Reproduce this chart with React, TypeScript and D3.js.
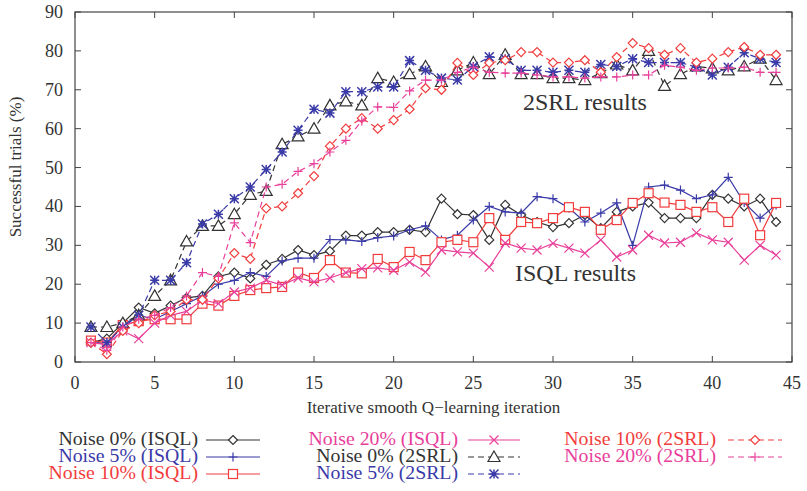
import React from "react";
import * as d3 from "d3";

// iterations 1..44
const iterations = d3.range(1, 45);

const isql0 = [5, 6, 10, 14, 12.5, 14.5, 16.5, 17, 22, 23, 21.5, 25, 26.5, 28.8, 27.5, 28.5, 32.5, 32.5, 33.4, 33.4, 34, 33.4, 42, 38, 37.8, 31.4, 40.4, 37.8, 36, 34.7, 35.7, 37.8, 34.4, 38.6, 40, 41, 37, 37, 37, 43, 42, 40, 42, 36];
const isql5 = [5.5, 4.5, 9.5, 12, 11, 13, 15, 17, 20, 21, 23, 22, 26, 26.7, 26.7, 31.5, 31.4, 31, 32, 32.4, 34, 35, 31.4, 32.6, 36.5, 40, 38.6, 38.3, 42.5, 42, 39.6, 36, 38.3, 40.9, 30, 45, 45.5, 44.2, 42, 43, 47.5, 41, 37, 40.4];
const isql10 = [5.5, 5, 9.5, 10.5, 11, 11, 11, 15, 14.5, 17, 18.5, 19, 19.3, 23, 21.6, 26.2, 23, 22.8, 26.5, 24.4, 28.3, 26.2, 30.8, 31.4, 30.8, 37, 31.4, 36, 35.7, 37, 39.8, 38.6, 34, 36.5, 40.9, 43.4, 41, 40.4, 38.6, 39.8, 36, 42, 32.6, 40.9];
const isql20 = [5, 4.5, 8, 6, 10, 12, 13, 16, 15, 18, 19, 21, 19.8, 21.6, 20.6, 21.6, 23, 24, 24.2, 23.6, 25.7, 23.1, 28.8, 28.3, 28, 24.4, 30.6, 29.3, 28.8, 30.5, 29.3, 28, 31.4, 27, 28.8, 32.6, 30.6, 30.8, 33.2, 31.4, 30.8, 26.2, 30, 27.5];
const srl0 = [9, 9, 10, 12, 17, 21, 31, 35, 35, 38, 43, 44, 56, 58, 60, 66, 67, 66, 73, 72, 74, 76, 72, 75, 77, 74, 79, 74, 74, 73, 73, 72.5, 74.3, 76.5, 75, 80, 71, 74, 76, 75.5, 75, 76, 78, 72.5];
const srl5 = [9, 5, 9, 12, 21, 21, 25.5, 35.5, 38, 42, 45, 49.5, 54, 59.6, 65, 64, 69.5, 69.5, 70.7, 70.7, 77.5, 75, 73, 72.5, 76, 78.5, 78, 75, 75, 74.5, 75, 74.5, 76.5, 76, 78, 77, 77, 77, 75.8, 73.8, 75.8, 79.5, 78, 77];
const srl10 = [5, 2, 8, 10, 12, 13, 16, 16, 21.5, 28, 26.5, 39.5, 40, 43.4, 47.8, 55.5, 60, 62.7, 60, 62.2, 65, 70.4, 70, 76.9, 73.8, 76.9, 77.6, 79.7, 79.7, 77, 77, 77.6, 74.5, 78.4, 82, 80.7, 79, 80.7, 77, 78, 79.7, 81, 79, 79];
const srl20 = [5, 3, 9, 11, 12, 14, 17, 23, 22, 35.8, 30.7, 45, 45.7, 49, 51, 54, 57, 62, 65.6, 65.5, 69.7, 72.5, 72.5, 74.5, 75.8, 74.5, 74.3, 74.3, 73.8, 73.3, 73.3, 73, 73.3, 73.3, 73.8, 73.8, 76.3, 75.8, 75, 75.6, 75.6, 75.8, 74.5, 74.5];

const xTicks = [0, 5, 10, 15, 20, 25, 30, 35, 40, 45];
const yTicks = [0, 10, 20, 30, 40, 50, 60, 70, 80, 90];

const BLACK = "#333333";
const BLUE = "#3a3aa8";
const RED = "#f23c3c";
const PINK = "#e8409a";

const series = [
  { name: "Noise 0% (ISQL)", values: isql0, color: BLACK, marker: "diamond", dashed: false },
  { name: "Noise 5% (ISQL)", values: isql5, color: BLUE, marker: "plus", dashed: false },
  { name: "Noise 10% (ISQL)", values: isql10, color: RED, marker: "square", dashed: false },
  { name: "Noise 20% (ISQL)", values: isql20, color: PINK, marker: "cross", dashed: false },
  { name: "Noise 0% (2SRL)", values: srl0, color: BLACK, marker: "triangle", dashed: true },
  { name: "Noise 5% (2SRL)", values: srl5, color: BLUE, marker: "star", dashed: true },
  { name: "Noise 10% (2SRL)", values: srl10, color: RED, marker: "diamond", dashed: true },
  { name: "Noise 20% (2SRL)", values: srl20, color: PINK, marker: "plus", dashed: true },
];

const FONT = "'Liberation Serif', 'DejaVu Serif', serif";

function Marker({ type, x, y, color }: { type: string; x: number; y: number; color: string }) {
  const s = 4.5;
  const common = { fill: "none", stroke: color, strokeWidth: 1.2 };
  if (type === "diamond")
    return <path d={`M${x},${y - s}L${x + s},${y}L${x},${y + s}L${x - s},${y}Z`} {...common} fill="white" />;
  if (type === "square")
    return <rect x={x - s} y={y - s} width={2 * s} height={2 * s} {...common} fill="white" />;
  if (type === "triangle")
    return <path d={`M${x},${y - 6}L${x + 6},${y + 4.5}L${x - 6},${y + 4.5}Z`} {...common} fill="white" />;
  if (type === "plus")
    return <path d={`M${x - s},${y}H${x + s}M${x},${y - s}V${y + s}`} {...common} />;
  if (type === "cross")
    return <path d={`M${x - s},${y - s}L${x + s},${y + s}M${x - s},${y + s}L${x + s},${y - s}`} {...common} />;
  // star: plus + cross
  return (
    <path
      d={`M${x - s},${y}H${x + s}M${x},${y - s}V${y + s}M${x - s},${y - s}L${x + s},${y + s}M${x - s},${y + s}L${x + s},${y - s}`}
      {...common}
      strokeWidth={1.5}
    />
  );
}

export default function App() {
  const W = 807, H = 491;
  const left = 75, right = 792, top = 12, bottom = 362;
  const x = d3.scaleLinear().domain([0, 45]).range([left, right]);
  const y = d3.scaleLinear().domain([0, 90]).range([bottom, top]);
  const line = d3.line<number>().x((_, i) => x(iterations[i])).y((d) => y(d));

  // legend layout: [textRight, lineStart, lineEnd, rowY]
  const legendPos = [
    [198, 206, 260, 440],
    [198, 206, 260, 457],
    [198, 206, 260, 474],
    [458, 468, 520, 440],
    [458, 468, 520, 457],
    [458, 468, 520, 474],
    [716, 728, 782, 440],
    [716, 728, 782, 457],
  ];

  return (
    <svg width={W} height={H} style={{ display: "block", position: "absolute", left: 0, top: 0 }} fontFamily={FONT}>
      <rect width={W} height={H} fill="white" />
      {/* frame */}
      <rect x={left} y={top} width={right - left} height={bottom - top} fill="none" stroke="#444" strokeWidth={1.2} />
      {xTicks.map((t) => (
        <g key={"x" + t}>
          <line x1={x(t)} x2={x(t)} y1={bottom} y2={bottom - 6} stroke="#444" />
          <line x1={x(t)} x2={x(t)} y1={top} y2={top + 6} stroke="#444" />
          <text x={x(t)} y={389} textAnchor="middle" fontSize={18} fill="#333">{t}</text>
        </g>
      ))}
      {yTicks.map((t) => (
        <g key={"y" + t}>
          <line x1={left} x2={left + 6} y1={y(t)} y2={y(t)} stroke="#444" />
          <line x1={right} x2={right - 6} y1={y(t)} y2={y(t)} stroke="#444" />
          <text x={63} y={y(t) + 6} textAnchor="end" fontSize={18} fill="#333">{t}</text>
        </g>
      ))}
      <text x={(left + right) / 2} y={413} textAnchor="middle" fontSize={17} fill="#333">
        Iterative smooth Q−learning iteration
      </text>
      <text transform={`translate(21,${(top + bottom) / 2 - 20}) rotate(-90)`} textAnchor="middle" fontSize={17} fill="#333">
        Successful trials (%)
      </text>

      {series.map((s) => (
        <g key={s.name}>
          <path d={line(s.values) || ""} fill="none" stroke={s.color} strokeWidth={1.2} strokeDasharray={s.dashed ? "6,4" : undefined} />
          {s.values.map((v, i) => (
            <Marker key={i} type={s.marker} x={x(iterations[i])} y={y(v)} color={s.color} />
          ))}
        </g>
      ))}

      <text x={523} y={110} fontSize={24} fill="#333">2SRL results</text>
      <text x={515} y={281} fontSize={24} fill="#333">ISQL results</text>

      {series.map((s, i) => {
        const [tr, l0, l1, ry] = legendPos[i];
        return (
          <g key={"lg" + s.name}>
            <text transform={`translate(${tr},${ry + 5}) scale(1.1,1)`} textAnchor="end" fontSize={18} fill={s.color}>{s.name}</text>
            <line x1={l0} x2={l1} y1={ry} y2={ry} stroke={s.color} strokeWidth={1.2} strokeDasharray={s.dashed ? "6,4" : undefined} />
            <Marker type={s.marker} x={(l0 + l1) / 2} y={ry} color={s.color} />
          </g>
        );
      })}
    </svg>
  );
}
